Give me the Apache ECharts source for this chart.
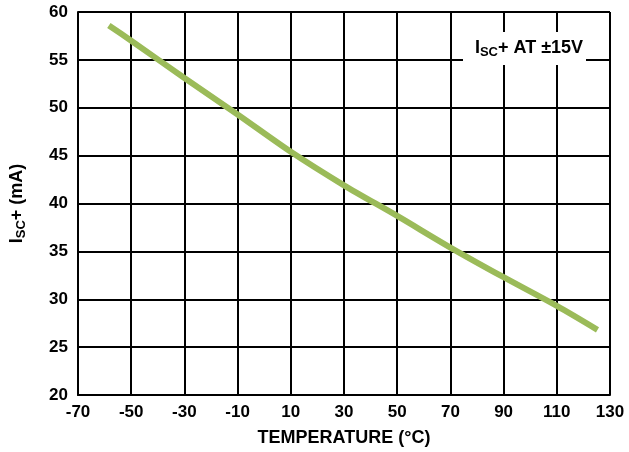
<!DOCTYPE html>
<html>
<head>
<meta charset="utf-8">
<script src="https://cdn.jsdelivr.net/npm/echarts@6/dist/echarts.min.js"></script>
<style>
  html, body { margin: 0; padding: 0; background: #fff; }
  #chart { width: 629px; height: 452px; }
</style>
</head>
<body>
<div id="chart"></div>
<script>
// temperature (°C) vs short-circuit current (mA)
var temps = [-58.4, -50, -30, -10, 10, 30, 50, 70, 90, 110, 125.3];
var iscPlus = [58.6, 57.0, 53.1, 49.3, 45.4, 41.9, 38.7, 35.4, 32.3, 29.3, 26.8];

var xMin = -70, xMax = 130, xStep = 20;
var yMin = 20, yMax = 60, yStep = 5;

var FONT = "'Liberation Sans', Arial, sans-serif";

var chart = echarts.init(document.getElementById("chart"));

// x axis runs from 0 so the ticks land on -70, -50, ... ; labels add xMin back
var points = temps.map(function (t, i) { return [t - xMin, iscPlus[i]]; });

var option = {
  animation: false,
  grid: { left: 73, right: 19, top: 12, bottom: 56 },
  xAxis: {
    type: "value",
    min: 0,
    max: xMax - xMin,
    interval: xStep,
    name: "TEMPERATURE (°C)",
    nameLocation: "middle",
    nameGap: 34,
    nameTextStyle: { fontFamily: FONT, fontWeight: "bold", fontSize: 18, color: "#000" },
    axisLine: { show: true, lineStyle: { color: "#000", width: 2 } },
    axisTick: { show: false },
    axisLabel: {
      fontFamily: FONT, fontWeight: "bold", fontSize: 17, color: "#000", margin: 9,
      formatter: function (v) { return String(v + xMin); }
    },
    splitLine: { show: true, lineStyle: { color: "#000", width: 2 } }
  },
  yAxis: {
    type: "value",
    min: yMin,
    max: yMax,
    interval: yStep,
    name: "{a|I}{b|SC}{a|+ (mA)}",
    nameLocation: "middle",
    nameGap: 50,
    nameTextStyle: {
      rich: {
        a: { fontFamily: FONT, fontWeight: "bold", fontSize: 18, color: "#000", lineHeight: 22, verticalAlign: "middle" },
        b: { fontFamily: FONT, fontWeight: "bold", fontSize: 13, color: "#000", lineHeight: 15, verticalAlign: "bottom" }
      }
    },
    axisLine: { show: true, lineStyle: { color: "#000", width: 2 } },
    axisTick: { show: false },
    axisLabel: { fontFamily: FONT, fontWeight: "bold", fontSize: 17, color: "#000", margin: 10 },
    splitLine: { show: true, lineStyle: { color: "#000", width: 2 } }
  },
  graphic: [
    {
      type: "rect",
      shape: { x: 463, y: 32, width: 123, height: 33 },
      style: { fill: "#fff" },
      z: 10
    },
    {
      type: "text",
      x: 529,
      y: 48,
      z: 11,
      style: {
        text: "{a|I}{b|SC}{a|+ AT ±15V}",
        align: "center",
        verticalAlign: "middle",
        rich: {
          a: { fontFamily: FONT, fontWeight: "bold", fontSize: 18, fill: "#000", lineHeight: 22, verticalAlign: "middle" },
          b: { fontFamily: FONT, fontWeight: "bold", fontSize: 13, fill: "#000", lineHeight: 15, verticalAlign: "bottom" }
        }
      }
    }
  ],
  series: [
    {
      type: "line",
      data: points,
      smooth: 0.3,
      symbol: "none",
      lineStyle: { color: "#9bbb59", width: 6, cap: "butt" },
      z: 5
    }
  ]
};

chart.setOption(option);
</script>
</body>
</html>
